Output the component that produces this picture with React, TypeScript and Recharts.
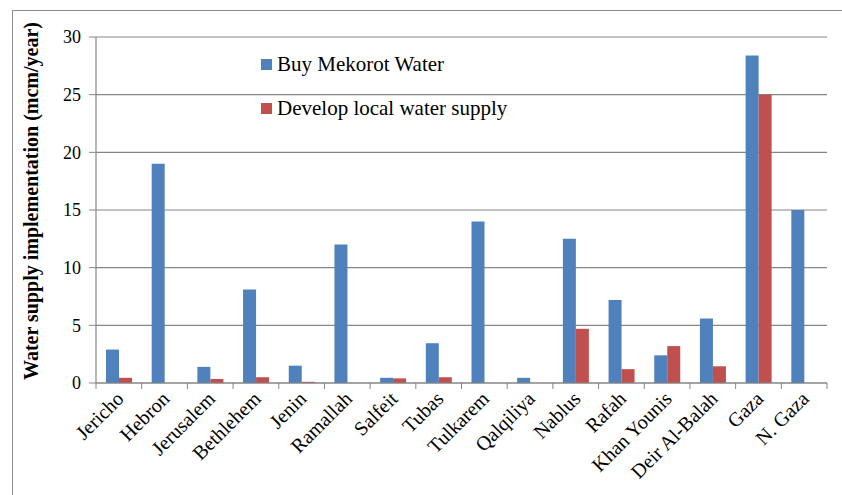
import React from "react";
import { BarChart, Bar, XAxis, YAxis, CartesianGrid, Legend } from "recharts";

const districts = [
  "Jericho",
  "Hebron",
  "Jerusalem",
  "Bethlehem",
  "Jenin",
  "Ramallah",
  "Salfeit",
  "Tubas",
  "Tulkarem",
  "Qalqiliya",
  "Nablus",
  "Rafah",
  "Khan Younis",
  "Deir Al-Balah",
  "Gaza",
  "N. Gaza",
];
const mekorotWater = [2.9, 19, 1.4, 8.1, 1.5, 12, 0.45, 3.45, 14, 0.45, 12.5, 7.2, 2.4, 5.6, 28.4, 15];
const localSupply = [0.45, 0, 0.35, 0.5, 0.1, 0, 0.4, 0.5, 0, 0, 4.7, 1.2, 3.2, 1.45, 25, 0];
const yTicks = [0, 5, 10, 15, 20, 25, 30];

const SERIES = [
  { key: "mekorot", name: "Buy Mekorot Water", color: "#4f81bd" },
  { key: "local", name: "Develop local water supply", color: "#c0504d" },
];

const data = districts.map((d, i) => ({
  district: d,
  mekorot: mekorotWater[i],
  local: localSupply[i],
}));

const FONT = "Liberation Serif";
const AXIS = "#868686";
const WIDTH = 842;
const HEIGHT = 495;
const MARGIN = { top: 37, right: 15, bottom: 12, left: 0 };
const Y_AXIS_W = 96;
const HALF_BAND = (WIDTH - MARGIN.left - MARGIN.right - Y_AXIS_W) / districts.length / 2;

// category label rotated 45deg, with tick marks on the band edges
const DistrictTick = (props: any) => {
  const { x, y, payload, index } = props;
  const half = payload?.offset || HALF_BAND;
  const last = index === districts.length - 1;
  const tx = x + 6;
  const ty = y + 17;
  return (
    <g>
      <line x1={x - half} y1={y} x2={x - half} y2={y + 6} stroke={AXIS} />
      {last && <line x1={x + half} y1={y} x2={x + half} y2={y + 6} stroke={AXIS} />}
      <text
        x={tx}
        y={ty}
        textAnchor="end"
        transform={`rotate(-45, ${tx}, ${ty})`}
        fontFamily={FONT}
        fontSize={20}
        fill="#000"
      >
        {payload.value}
      </text>
    </g>
  );
};

const LegendBox = () => (
  <div style={{ fontFamily: FONT, fontSize: 21, color: "#000", lineHeight: "24px" }}>
    {SERIES.map((s, i) => (
      <div
        key={s.key}
        style={{ display: "flex", alignItems: "center", height: 24, marginBottom: i === 0 ? 20 : 0 }}
      >
        <span style={{ width: 11, height: 11, background: s.color, marginRight: 5 }} />
        <span>{s.name}</span>
      </div>
    ))}
  </div>
);

const YTitle = () => (
  <text
    x={38}
    y={201}
    transform="rotate(-90, 38, 201)"
    textAnchor="middle"
    fontFamily={FONT}
    fontWeight="bold"
    fontSize={20}
    fill="#000"
  >
    Water supply implementation (mcm/year)
  </text>
);

export default function App() {
  return (
    <div
      style={{
        position: "absolute",
        left: 0,
        top: 0,
        width: WIDTH,
        height: HEIGHT,
        background: "#fff",
        overflow: "hidden",
      }}
    >
      <div
        style={{
          position: "absolute",
          left: 12,
          top: 10,
          width: WIDTH,
          height: HEIGHT,
          borderLeft: "1px solid #8c8c8c",
          borderTop: "1px solid #8c8c8c",
        }}
      />
      <BarChart
        width={WIDTH}
        height={HEIGHT}
        data={data}
        margin={MARGIN}
        barSize={13}
        barGap={0}
      >
        <CartesianGrid vertical={false} stroke={AXIS} strokeWidth={1.2} />
        <XAxis
          dataKey="district"
          interval={0}
          height={100}
          tickSize={0}
          tickMargin={0}
          tickLine={false}
          axisLine={{ stroke: AXIS, strokeWidth: 1.2 }}
          tick={<DistrictTick />}
        />
        <YAxis
          width={Y_AXIS_W}
          domain={[0, 30]}
          ticks={yTicks}
          interval={0}
          tickSize={7}
          tickMargin={8}
          axisLine={{ stroke: AXIS, strokeWidth: 1.2 }}
          tickLine={{ stroke: AXIS }}
          tick={{ fontFamily: FONT, fontSize: 18, fill: "#000" }}
          label={<YTitle />}
        />
        <Legend
          layout="vertical"
          align="center"
          verticalAlign="middle"
          content={<LegendBox />}
          wrapperStyle={{ left: 261, top: 52, width: 340 }}
        />
        {SERIES.map((s) => (
          <Bar key={s.key} dataKey={s.key} name={s.name} fill={s.color} isAnimationActive={false} />
        ))}
      </BarChart>
    </div>
  );
}
